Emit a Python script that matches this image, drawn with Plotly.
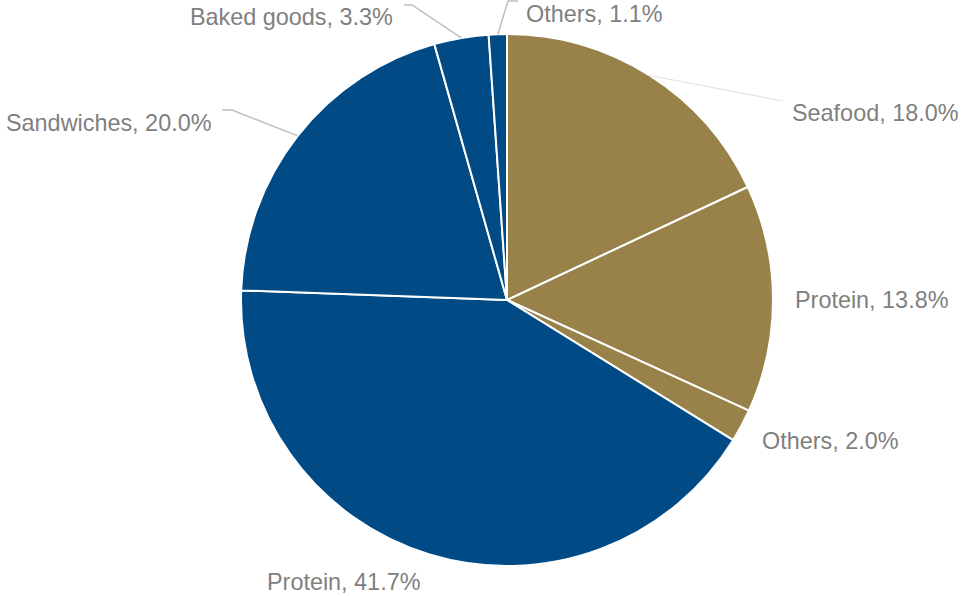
import math
import plotly.graph_objects as go

# ---- data ----
categories = ["Seafood", "Protein", "Others", "Protein", "Sandwiches", "Baked goods", "Others"]
shares = [18.0, 13.8, 2.0, 41.7, 20.0, 3.3, 1.1]
groups = ["gold", "gold", "gold", "blue", "blue", "blue", "blue"]

# ---- style / layout ----
W, H = 961, 596
CX, CY, R = 507, 300, 266
COLORS = {"gold": "#99824A", "blue": "#004A86"}
TEXT_COLOR = "#7F7F7F"
FONT = "Liberation Sans, Arial, sans-serif"
FSIZE = 23.4

# label anchor (px), xanchor, leader elbow/end (px) per slice
label_layout = [
    dict(x=790, y=113, xa="left", elbow=(783, 101), end=None, lc="#E3E3E3", lw=1.2),
    dict(x=793, y=300, xa="left", elbow=None, end=None, lc=None, lw=0),
    dict(x=760, y=441, xa="left", elbow=None, end=None, lc=None, lw=0),
    dict(x=343, y=582, xa="center", elbow=None, end=None, lc=None, lw=0),
    dict(x=213, y=123, xa="right", elbow=(232, 110), end=(222, 110), lc="#BFBFBF", lw=1.5),
    dict(x=395, y=17, xa="right", elbow=(412, 5), end=(404, 5), lc="#BFBFBF", lw=1.5),
    dict(x=524, y=14, xa="left", elbow=(508, 1), end=(518, 1), lc="#BFBFBF", lw=1.5),
]

def px(x):
    return x / W

def py(y):
    return 1 - y / H

ids = [f"{c} #{i}" for i, c in enumerate(categories)]

fig = go.Figure(go.Pie(
    labels=ids,
    values=shares,
    sort=False,
    direction="clockwise",
    rotation=0,
    textinfo="none",
    marker=dict(colors=[COLORS[g] for g in groups], line=dict(color="white", width=2)),
    domain=dict(x=[px(CX - R), px(CX + R)], y=[py(CY + R), py(CY - R)]),
    showlegend=False,
    hoverinfo="skip",
))

total = sum(shares)
cum = 0.0
annotations = []
shapes = []
for cat, v, lay in zip(categories, shares, label_layout):
    mid = (cum + v / 2) / total * 2 * math.pi
    cum += v
    rx = CX + R * math.sin(mid)
    ry = CY - R * math.cos(mid)
    annotations.append(dict(
        x=px(lay["x"]), y=py(lay["y"]), xref="paper", yref="paper",
        xanchor=lay["xa"], yanchor="middle", showarrow=False,
        text=f"{cat}, {v:.1f}%",
        font=dict(family=FONT, size=FSIZE, color=TEXT_COLOR),
    ))
    if lay["elbow"] is not None:
        pts = [(rx, ry), lay["elbow"]]
        if lay["end"] is not None:
            pts.append(lay["end"])
        path = "M " + " L ".join(f"{px(a)},{py(b)}" for a, b in pts)
        shapes.append(dict(type="path", path=path, xref="paper", yref="paper",
                           line=dict(color=lay["lc"], width=lay["lw"])))

fig.update_layout(
    width=W, height=H,
    margin=dict(l=0, r=0, t=0, b=0),
    paper_bgcolor="white", plot_bgcolor="white",
    annotations=annotations, shapes=shapes,
)

fig.write_html("out.html")
